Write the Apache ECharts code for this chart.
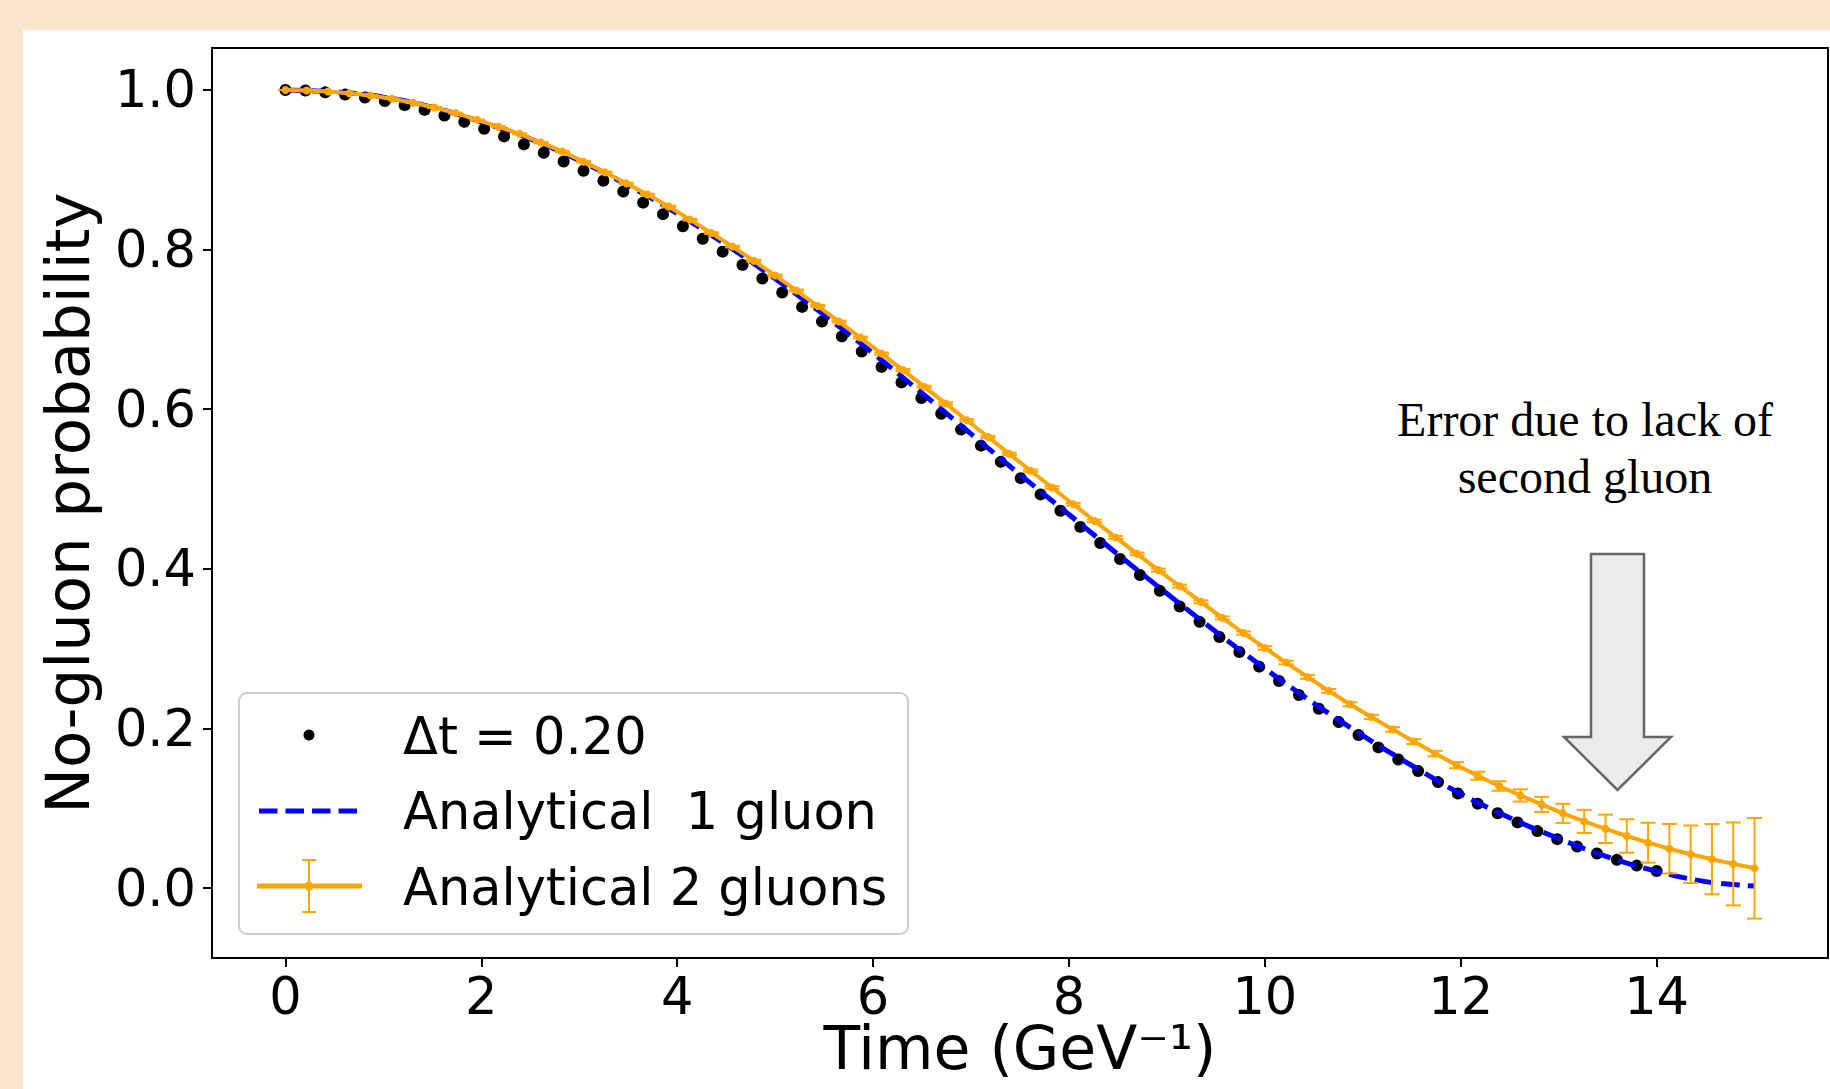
<!DOCTYPE html>
<html>
<head>
<meta charset="utf-8">
<script src="https://cdn.jsdelivr.net/npm/echarts@6/dist/echarts.min.js"></script>
<style>
html,body{margin:0;padding:0;width:1830px;height:1089px;overflow:hidden;background:#FCE5CD;}
#panel{position:absolute;left:23px;top:30px;right:0;bottom:0;background:#ffffff;}
#chart{position:absolute;left:0;top:0;width:1830px;height:1089px;}
</style>
</head>
<body>
<div id="panel"></div>
<div id="chart"></div>
<script>
// ---------- data ----------
const X_TICKS = [0, 2, 4, 6, 8, 10, 12, 14];
const Y_TICKS = [0.0, 0.2, 0.4, 0.6, 0.8, 1.0];

// Simulation points "Δt = 0.20": 70 points spread over 0 … 14
const DOT_T_END = 14;
const P_DOTS = [
 1.0000, 0.9993, 0.9970, 0.9942, 0.9905, 0.9862, 0.9810, 0.9750, 0.9680, 0.9602,
 0.9513, 0.9418, 0.9318, 0.9213, 0.9103, 0.8988, 0.8862, 0.8728, 0.8588, 0.8444,
 0.8292, 0.8135, 0.7974, 0.7808, 0.7637, 0.7462, 0.7282, 0.7099, 0.6912, 0.6722,
 0.6530, 0.6336, 0.6140, 0.5943, 0.5744, 0.5543, 0.5340, 0.5136, 0.4932, 0.4728,
 0.4525, 0.4323, 0.4122, 0.3922, 0.3724, 0.3528, 0.3335, 0.3145, 0.2958, 0.2774,
 0.2594, 0.2418, 0.2247, 0.2080, 0.1918, 0.1762, 0.1611, 0.1466, 0.1327, 0.1185,
 0.1057, 0.0937, 0.0822, 0.0713, 0.0612, 0.0519, 0.0432, 0.0353, 0.0281, 0.0213
];

// Analytical 1 gluon (dashed blue), sampled every 0.5
const T_ONE = [0,0.5,1,1.5,2,2.5,3,3.5,4,4.5,5,5.5,6,6.5,7,7.5,8,8.5,9,9.5,10,10.5,11,11.5,12,12.5,13,13.5,14,14.5,15];
const P_ONE = [1.0000, 0.9975, 0.9913, 0.9785, 0.9600, 0.9388, 0.9115, 0.8803, 0.8450, 0.8060,
 0.7635, 0.7180, 0.6700, 0.6200, 0.5690, 0.5180, 0.4680, 0.4180, 0.3690, 0.3210,
 0.2750, 0.2315, 0.1910, 0.1535, 0.1180, 0.0880, 0.0620, 0.0390, 0.0210, 0.0080, 0.0025];

// Analytical 2 gluons (orange, with error bars): 70 points over 0 … 15
const TWO_T_END = 15;
const P_TWO = [
 1.0000, 0.9994, 0.9980, 0.9960, 0.9930, 0.9890, 0.9840, 0.9780, 0.9710, 0.9625,
 0.9540, 0.9450, 0.9340, 0.9230, 0.9100, 0.8970, 0.8830, 0.8690, 0.8540, 0.8375,
 0.8208, 0.8037, 0.7860, 0.7676, 0.7487, 0.7294, 0.7098, 0.6898, 0.6696, 0.6490,
 0.6282, 0.6072, 0.5862, 0.5651, 0.5440, 0.5229, 0.5019, 0.4809, 0.4600, 0.4393,
 0.4187, 0.3984, 0.3783, 0.3585, 0.3385, 0.3195, 0.3008, 0.2825, 0.2645, 0.2470,
 0.2302, 0.2143, 0.1988, 0.1835, 0.1685, 0.1540, 0.1407, 0.1278, 0.1160, 0.1048,
 0.0936, 0.0835, 0.0742, 0.0652, 0.0568, 0.0492, 0.0423, 0.0361, 0.0302, 0.0247
];
const E_TWO = [
 0.0000, 0.0003, 0.0004, 0.0004, 0.0005, 0.0005, 0.0005, 0.0006, 0.0006, 0.0006,
 0.0007, 0.0007, 0.0007, 0.0008, 0.0008, 0.0008, 0.0009, 0.0009, 0.0009, 0.0010,
 0.0010, 0.0010, 0.0011, 0.0011, 0.0011, 0.0012, 0.0012, 0.0012, 0.0013, 0.0013,
 0.0013, 0.0014, 0.0014, 0.0014, 0.0015, 0.0015, 0.0015, 0.0016, 0.0016, 0.0017,
 0.0017, 0.0018, 0.0018, 0.0019, 0.0019, 0.0020, 0.0021, 0.0022, 0.0023, 0.0024,
 0.0025, 0.0027, 0.0029, 0.0031, 0.0034, 0.0040, 0.0050, 0.0060, 0.0077, 0.0094,
 0.0120, 0.0145, 0.0178, 0.0210, 0.0250, 0.0310, 0.0360, 0.0440, 0.0520, 0.0630
];

// x positions (evenly spaced sample times)
const T_DOTS = P_DOTS.map((_, i) => i * DOT_T_END / (P_DOTS.length - 1));
const T_TWO = P_TWO.map((_, i) => i * TWO_T_END / (P_TWO.length - 1));

// ---------- chart ----------
const FONT = 'DejaVu Sans';
const ORANGE = '#FFA500';
const chart = echarts.init(document.getElementById('chart'), null, {renderer: 'svg'});

const option = {
  animation: false,
  backgroundColor: 'transparent',
  grid: {left: 212, top: 48, right: 2, bottom: 131, show: true, outerBoundsMode: 'none',
         containLabel: false,
         borderColor: '#000', borderWidth: 2, backgroundColor: '#fff'},
  xAxis: {
    type: 'value', min: -0.75, max: 15.75,
    splitLine: {show: false},
    axisLine: {show: true, onZero: false, lineStyle: {color: '#000', width: 2}},
    axisTick: {show: true, length: 9, lineStyle: {color: '#000', width: 2}, customValues: X_TICKS},
    axisLabel: {customValues: X_TICKS, fontFamily: FONT, fontSize: 51, color: '#000', margin: 13,
                formatter: v => String(v)},
    name: 'Time (GeV⁻¹)', nameLocation: 'middle', nameGap: 60, nameMoveOverlap: false,
    nameTextStyle: {fontFamily: FONT, fontSize: 60, color: '#000'}
  },
  yAxis: {
    type: 'value', min: -0.0877, max: 1.0526,
    splitLine: {show: false},
    axisLine: {show: true, onZero: false, lineStyle: {color: '#000', width: 2}},
    axisTick: {show: true, length: 9, lineStyle: {color: '#000', width: 2}, customValues: Y_TICKS},
    axisLabel: {customValues: Y_TICKS, fontFamily: FONT, fontSize: 51, color: '#000', margin: 16,
                formatter: v => v.toFixed(1)},
    name: 'No-gluon probability', nameLocation: 'middle', nameGap: 114,
    nameTextStyle: {fontFamily: FONT, fontSize: 61, color: '#000'}
  },
  series: [
    {
      name: 'Δt = 0.20', type: 'scatter', z: 2,
      symbol: 'circle', symbolSize: 12,
      itemStyle: {color: '#000', opacity: 1},
      data: T_DOTS.map((t, i) => [t, P_DOTS[i]])
    },
    {
      name: 'Analytical  1 gluon', type: 'line', z: 3,
      smooth: 0.4, showSymbol: false, symbol: 'none',
      lineStyle: {color: '#0000FF', width: 5, type: [18.5, 8]},
      data: T_ONE.map((t, i) => [t, P_ONE[i]])
    },
    {
      name: 'Analytical 2 gluons errors', type: 'custom', z: 4,
      renderItem: (params, api) => {
        const x = api.value(0), y = api.value(1), e = api.value(2);
        const p1 = api.coord([x, y + e]), p2 = api.coord([x, y - e]);
        const c = 7.5;
        const st = {stroke: ORANGE, lineWidth: 2};
        return {type: 'group', children: [
          {type: 'line', shape: {x1: p1[0], y1: p1[1], x2: p2[0], y2: p2[1]}, style: st},
          {type: 'line', shape: {x1: p1[0] - c, y1: p1[1], x2: p1[0] + c, y2: p1[1]}, style: st},
          {type: 'line', shape: {x1: p2[0] - c, y1: p2[1], x2: p2[0] + c, y2: p2[1]}, style: st}
        ]};
      },
      encode: {x: 0, y: 1},
      data: T_TWO.map((t, i) => [t, P_TWO[i], E_TWO[i]])
    },
    {
      name: 'Analytical 2 gluons', type: 'line', z: 5,
      symbol: 'circle', symbolSize: 8, showSymbol: true,
      lineStyle: {color: ORANGE, width: 4},
      itemStyle: {color: ORANGE, borderWidth: 0},
      data: T_TWO.map((t, i) => [t, P_TWO[i]])
    }
  ],
  graphic: [
    // legend box
    {type: 'rect', z: 100, shape: {x: 239, y: 693, width: 669, height: 241, r: 8},
     style: {fill: 'rgba(255,255,255,0.8)', stroke: '#cccccc', lineWidth: 2}},
    {type: 'circle', z: 101, shape: {cx: 309, cy: 735, r: 5.5}, style: {fill: '#000'}},
    {type: 'text', z: 101, x: 403, y: 736,
     style: {text: 'Δt = 0.20', font: '51px "DejaVu Sans"', fill: '#000', verticalAlign: 'middle'}},
    {type: 'line', z: 101, shape: {x1: 259, y1: 811, x2: 359, y2: 811},
     style: {stroke: '#0000FF', lineWidth: 5, lineDash: [18.5, 8]}},
    {type: 'text', z: 101, x: 403, y: 811,
     style: {text: 'Analytical  1 gluon', font: '51px "DejaVu Sans"', fill: '#000', verticalAlign: 'middle'}},
    {type: 'line', z: 101, shape: {x1: 257, y1: 886, x2: 362, y2: 886},
     style: {stroke: ORANGE, lineWidth: 5}},
    {type: 'line', z: 101, shape: {x1: 309, y1: 860, x2: 309, y2: 912},
     style: {stroke: ORANGE, lineWidth: 2}},
    {type: 'line', z: 101, shape: {x1: 302, y1: 860, x2: 316, y2: 860},
     style: {stroke: ORANGE, lineWidth: 2}},
    {type: 'line', z: 101, shape: {x1: 302, y1: 912, x2: 316, y2: 912},
     style: {stroke: ORANGE, lineWidth: 2}},
    {type: 'circle', z: 101, shape: {cx: 309, cy: 886, r: 4.5}, style: {fill: ORANGE}},
    {type: 'text', z: 101, x: 403, y: 887,
     style: {text: 'Analytical 2 gluons', font: '51px "DejaVu Sans"', fill: '#000', verticalAlign: 'middle'}},
    // annotation
    {type: 'text', z: 100, x: 1585, y: 391,
     style: {text: 'Error due to lack of\nsecond gluon', font: '48px "Liberation Serif"', fill: '#000',
             align: 'center', verticalAlign: 'top', lineHeight: 57}},
    {type: 'polygon', z: 100,
     shape: {points: [[1591, 554], [1644, 554], [1644, 737], [1671, 737], [1617.5, 790], [1564, 737], [1591, 737]]},
     style: {fill: '#EBEBEB', stroke: '#666666', lineWidth: 2.5}}
  ]
};
chart.setOption(option);
</script>
</body>
</html>
